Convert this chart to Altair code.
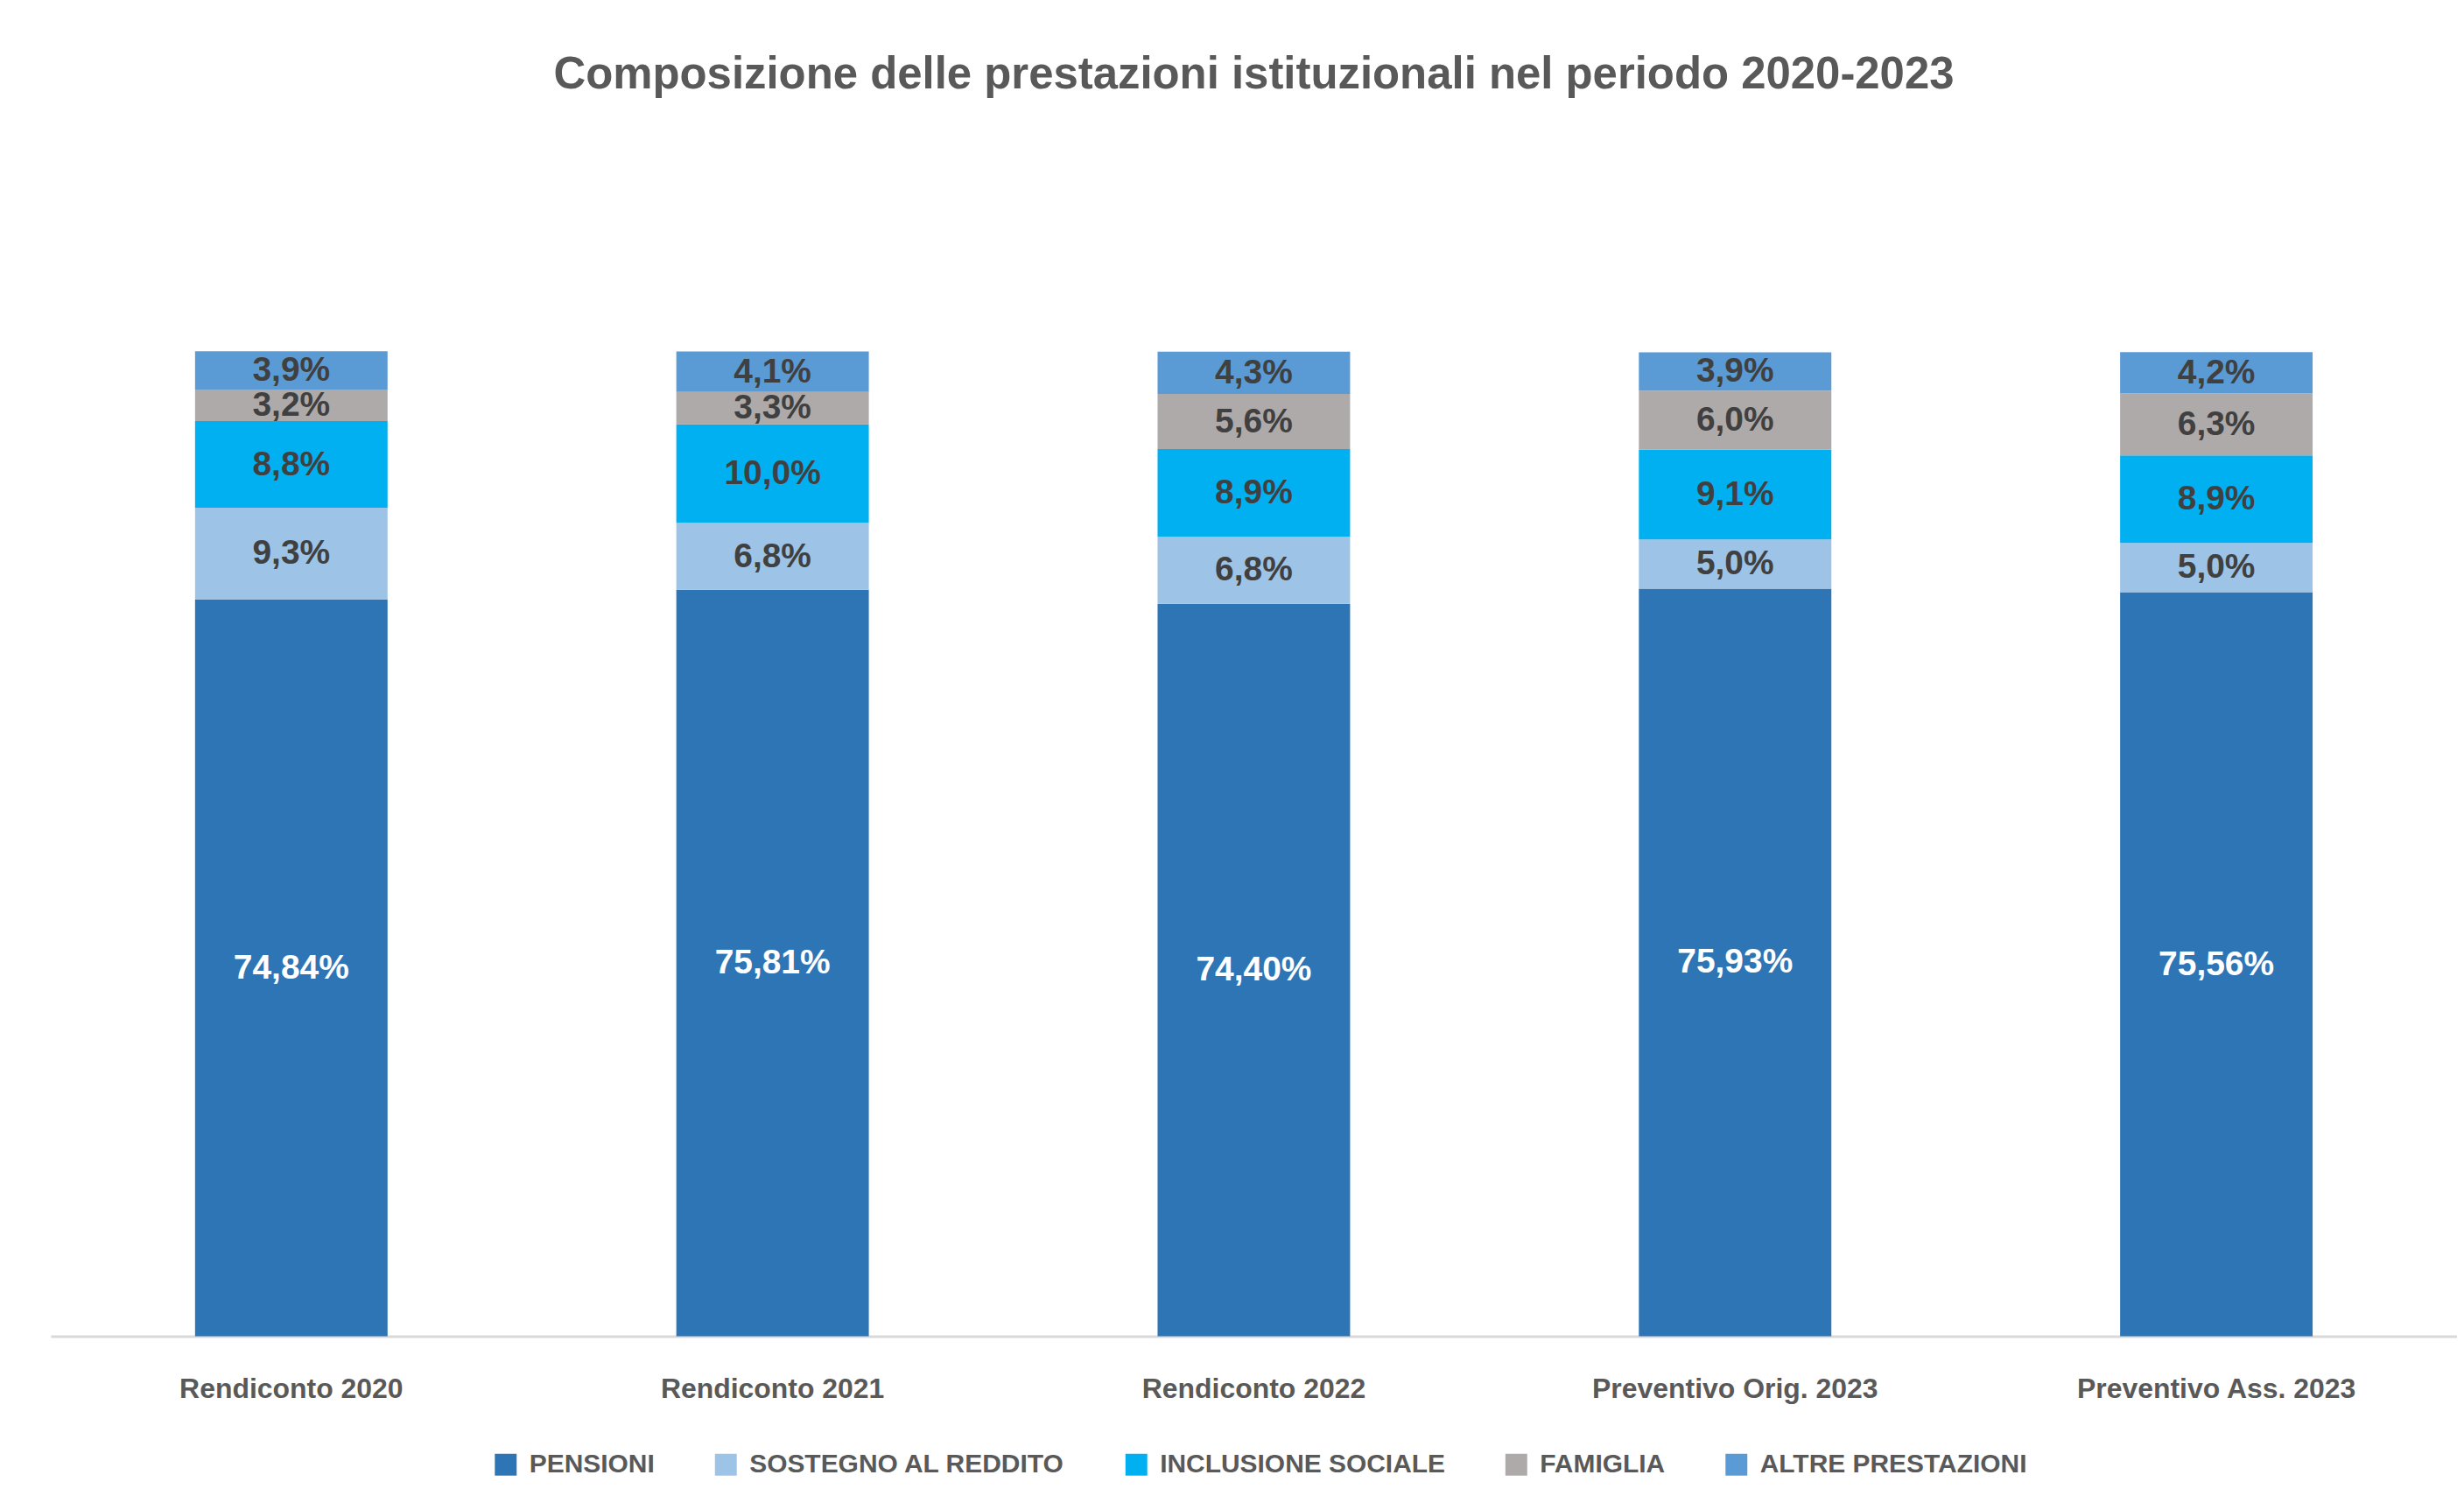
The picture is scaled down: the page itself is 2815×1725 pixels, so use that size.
import altair as alt
import pandas as pd

categorie = ["Rendiconto 2020", "Rendiconto 2021", "Rendiconto 2022",
             "Preventivo Orig. 2023", "Preventivo Ass. 2023"]
serie = ["PENSIONI", "SOSTEGNO AL REDDITO", "INCLUSIONE SOCIALE", "FAMIGLIA", "ALTRE PRESTAZIONI"]
colori = ["#2E75B6", "#9DC3E6", "#00B0F0", "#AEAAAA", "#5B9BD5"]

pensioni = [74.84, 75.81, 74.40, 75.93, 75.56]
sostegno = [9.3, 6.8, 6.8, 5.0, 5.0]
inclusione = [8.8, 10.0, 8.9, 9.1, 8.9]
famiglia = [3.2, 3.3, 5.6, 6.0, 6.3]
altre = [3.9, 4.1, 4.3, 3.9, 4.2]

valori = [pensioni, sostegno, inclusione, famiglia, altre]
rows = []
for si, (s, vals) in enumerate(zip(serie, valori)):
    for c, v in zip(categorie, vals):
        rows.append({"cat": c, "serie": s, "ord": si, "val": v})
df = pd.DataFrame(rows)

FONT = "Liberation Sans"

base = alt.Chart(df).transform_stack(
    stack="val", groupby=["cat"], sort=[alt.SortField("ord", order="ascending")], as_=["y0", "y1"]
).transform_calculate(
    mid="(datum.y0 + datum.y1) / 2",
    lab="replace(format(datum.val, datum.serie == 'PENSIONI' ? '.2f' : '.1f'), '.', ',') + '%'",
)

x_enc = alt.X("cat:N", sort=categorie, title=None,
              scale=alt.Scale(paddingInner=0.6, paddingOuter=0.3),
              axis=alt.Axis(labelAngle=0, ticks=False, labelPadding=45, labelFont=FONT,
                            labelFontSize=32, labelFontWeight="bold", labelColor="#595959",
                            domainColor="#D9D9D9", domainWidth=3, labelLimit=1000))

yscale = alt.Scale(domain=[0, 110], nice=False)

bars = base.mark_bar().encode(
    x=x_enc,
    y=alt.Y("y0:Q", scale=yscale, axis=None),
    y2="y1:Q",
    color=alt.Color("serie:N", scale=alt.Scale(domain=serie, range=colori),
                    sort=serie,
                    legend=alt.Legend(title=None, orient="none", direction="horizontal",
                                      legendX=506, legendY=1372,
                                      symbolType="square", symbolSize=625, symbolStrokeWidth=0,
                                      labelFont=FONT, labelFontSize=30, labelFontWeight="bold",
                                      labelColor="#595959", labelLimit=1000, labelOffset=12,
                                      columnPadding=66)),
)

labels = base.mark_text(font=FONT, fontSize=39, fontWeight="bold", baseline="middle").encode(
    x=alt.X("cat:N", sort=categorie),
    y=alt.Y("mid:Q", scale=yscale),
    text="lab:N",
    color=alt.condition("datum.serie == 'PENSIONI'", alt.value("white"), alt.value("#404040")),
)

chart = alt.layer(bars, labels).properties(
    width=2755, height=1240,
    background="white",
    title=alt.TitleParams("Composizione delle prestazioni istituzionali nel periodo 2020-2023",
                          font=FONT, fontSize=51, fontWeight="bold", color="#595959",
                          anchor="middle", frame="group", offset=178),
    padding={"left": 50, "top": 50, "right": 0, "bottom": 5},
).configure_view(strokeWidth=0, stroke=None)

chart.save("out.html", embed_options={"renderer": "svg", "actions": False})
